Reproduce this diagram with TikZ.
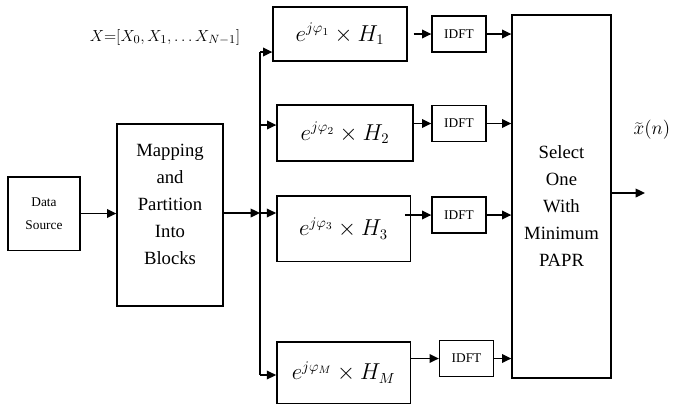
\documentclass[tikz,border=0pt]{standalone}
\usepackage{fontspec}
\setmainfont{Liberation Serif}
\usetikzlibrary{arrows.meta}
\tikzset{
  blk/.style={draw, line width=1pt, inner sep=0pt, align=center},
  hblk/.style={blk, minimum width=100pt, font=\fontsize{16}{18}\selectfont},
  idft/.style={blk, minimum width=40.5pt, minimum height=27pt, font=\fontsize{10}{12}\selectfont},
  arr/.style={-{Triangle[length=7pt,width=6.5pt]}, line width=1pt},
  big/.style={align=center, font=\fontsize{14}{20.25}\selectfont}
}
\begin{document}
\begin{tikzpicture}[x=0.75pt,y=-0.75pt]
\useasboundingbox (0,0) rectangle (674,405);
\node[blk, minimum width=54pt, minimum height=55pt, font=\fontsize{10}{17}\selectfont] (src) at (44,213.5) {Data\\Source};
\node[blk, minimum width=79.5pt, minimum height=136.5pt] (map) at (170,215) {};
\node[big] (maptxt) at (170,204) {Mapping\\and\\Partition\\Into\\Blocks};
\node[font=\fontsize{12.5}{15}\selectfont] (xvec) at (165,37) {$X{=}[X_0,X_1,\ldots X_{N-1}]$};
\node[hblk, minimum width=100.5pt, minimum height=40.5pt] (h1) at (340,34) {$e^{j\varphi_1}\times H_1$};
\node[hblk, minimum width=102pt, minimum height=42pt] (h2) at (345,133) {$e^{j\varphi_2}\times H_2$};
\node[hblk, minimum height=49pt] (h3) at (343.5,228.5) {$e^{j\varphi_3}\times H_3$};
\node[hblk, minimum height=46pt] (hm) at (343.5,372.5) {$e^{j\varphi_M}\times H_M$};
\node[idft] (i1) at (459,34) {IDFT};
\node[idft] (i2) at (459,123.5) {IDFT};
\node[idft] (i3) at (459,215) {IDFT};
\node[idft] (im) at (466.5,358.5) {IDFT};
\node[blk, minimum width=74.25pt, minimum height=272.25pt] (sel) at (561.5,196.5) {};
\node[big] (seltxt) at (561.5,206.5) {Select\\One\\With\\Minimum\\PAPR};
\node[font=\fontsize{14}{16}\selectfont] (xn) at (652,130) {$\widetilde{x}(n)$};
\coordinate (b1) at (260,52);
\coordinate (b2) at (260,125);
\coordinate (b3) at (260,213);
\coordinate (bm) at (260,375);
\coordinate (out) at (645,193);
% connectors
\draw[arr] (src.east) -- (src.east -| map.west);
\draw[arr] (map.east |- b3) -- (b3);
\draw[line width=1pt] (b1) -- (bm);
\draw[arr] (b1) -- (b1 -| h1.west);
\draw[arr] (b2) -- (b2 -| h2.west);
\draw[arr] (b3) -- (b3 -| h3.west);
\draw[arr] (bm) -- (bm -| hm.west);
\draw[arr] ([xshift=4.5pt]h1.east |- i1.west) -- (i1.west);
\draw[arr] (h2.east |- i2.west) -- (i2.west);
\draw[arr] ([xshift=-4.5pt]h3.east |- i3.west) -- (i3.west);
\draw[arr] (hm.east |- im.west) -- (im.west);
\foreach \i in {i1,i2,i3,im}
  \draw[arr] (\i.east) -- (\i.east -| sel.west);
\draw[arr] (sel.east |- out) -- (out);
\end{tikzpicture}
\end{document}
